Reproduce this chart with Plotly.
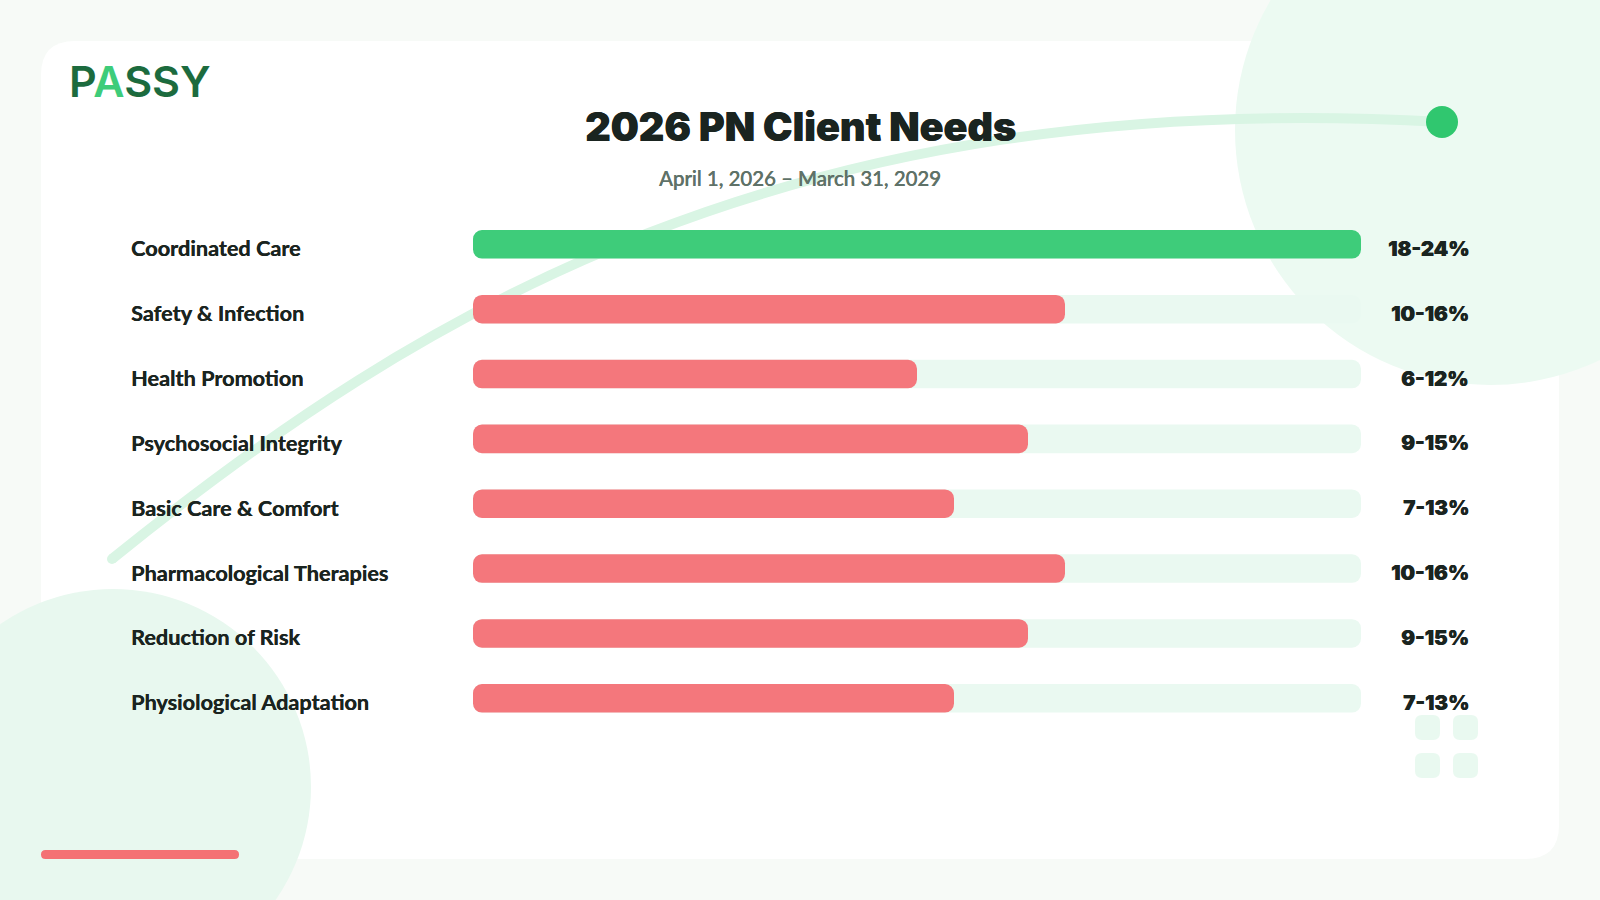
import plotly.graph_objects as go

W, H = 1600, 900

# chart data
categories = ['Coordinated Care', 'Safety & Infection', 'Health Promotion', 'Psychosocial Integrity',
              'Basic Care & Comfort', 'Pharmacological Therapies', 'Reduction of Risk', 'Physiological Adaptation']
upper_pct = [24, 16, 12, 15, 13, 16, 15, 13]
track_pct = [24, 24, 24, 24, 24, 24, 24, 24]
range_labels = ['18-24%', '10-16%', '6-12%', '9-15%', '7-13%', '10-16%', '9-15%', '7-13%']

GREEN = '#3ECC7A'
RED = '#F4777C'
TRACK = '#EAF9F1'
INK = '#1A2420'
bar_colors = [GREEN] + [RED] * 7
zero_base = [0] * len(categories)  # with an explicit base plotly rounds both ends of the bar


def px(x):
    return x / W


def py(y):
    return 1 - y / H


def rrect(x0, y0, x1, y1, r, color):
    # rounded rectangle given in page pixels
    path = (f'M {px(x0 + r)},{py(y0)} L {px(x1 - r)},{py(y0)} Q {px(x1)},{py(y0)} {px(x1)},{py(y0 + r)} '
            f'L {px(x1)},{py(y1 - r)} Q {px(x1)},{py(y1)} {px(x1 - r)},{py(y1)} '
            f'L {px(x0 + r)},{py(y1)} Q {px(x0)},{py(y1)} {px(x0)},{py(y1 - r)} '
            f'L {px(x0)},{py(y0 + r)} Q {px(x0)},{py(y0)} {px(x0 + r)},{py(y0)} Z')
    return dict(type='path', xref='paper', yref='paper', path=path, fillcolor=color,
                line=dict(width=0), layer='below')


def circle(cx, cy, r, color):
    return dict(type='circle', xref='paper', yref='paper', x0=px(cx - r), x1=px(cx + r),
                y0=py(cy + r), y1=py(cy - r), fillcolor=color, line=dict(width=0), layer='below')


curve = f'M {px(112)},{py(559)} C {px(420)},{py(310)} {px(790)},{py(85)} {px(1442)},{py(122)}'

shapes = [
    rrect(41, 41, 1559, 859, 34, '#FFFFFF'),
    circle(1490, 130, 255, '#ECFAF2'),
    circle(113, 787, 198, '#E8F8EF'),
    dict(type='path', xref='paper', yref='paper', path=curve, line=dict(color='#D9F5E4', width=10), layer='below'),
    circle(112, 559, 5, '#D9F5E4'),
    circle(1442, 122, 16, '#30C76F'),
    rrect(41, 850, 239, 859, 4.5, '#F47174'),
    rrect(1415, 715, 1440, 740, 7, '#E9F9F0'),
    rrect(1453, 715, 1478, 740, 7, '#E9F9F0'),
    rrect(1415, 753, 1440, 778, 7, '#E9F9F0'),
    rrect(1453, 753, 1478, 778, 7, '#E9F9F0'),
]

fig = go.Figure()
fig.add_trace(go.Bar(y=categories, x=track_pct, base=zero_base, orientation='h', width=0.44,
                     marker=dict(color=TRACK, cornerradius=9, line=dict(width=0)), hoverinfo='skip'))
fig.add_trace(go.Bar(y=categories, x=upper_pct, base=zero_base, orientation='h', width=0.44,
                     marker=dict(color=bar_colors, cornerradius=9, line=dict(width=0)),
                     customdata=range_labels, hovertemplate='%{y}: %{customdata}<extra></extra>'))

annotations = [
    dict(text='2026 PN Client Needs', xref='paper', yref='paper', x=px(800), y=py(127), xanchor='center',
         yanchor='middle', showarrow=False,
         font=dict(family='Inter', size=39.5, color=INK, weight=900, shadow='0.4px 0 0 #1A2420')),
    dict(text='April 1, 2026 – March 31, 2029', xref='paper', yref='paper', x=px(800), y=py(178), xanchor='center',
         yanchor='middle', showarrow=False,
         font=dict(family='Lato', size=20.4, color='#5F7268', weight=500, shadow='0.3px 0 0 #5F7268')),
    dict(text='P<span style="color:#3ECC7A">A</span>SSY', xref='paper', yref='paper', x=px(67), y=py(81),
         xanchor='left', yanchor='middle', showarrow=False,
         font=dict(family='Inter', size=43, color='#1C6B3E', weight=600)),
]
for cat, lab in zip(categories, range_labels):
    annotations.append(dict(text=cat, xref='paper', yref='y', x=px(129), y=cat, xanchor='left', yanchor='middle',
                            yshift=-4, showarrow=False,
                            font=dict(family='Lato', size=21.7, color=INK, weight=700, shadow='0.3px 0 0 #1A2420')))
    annotations.append(dict(text=lab, xref='paper', yref='y', x=px(1471), y=cat, xanchor='right', yanchor='middle',
                            yshift=-4, showarrow=False,
                            font=dict(family='Inter', size=20.5, color=INK, weight=900, shadow='0.4px 0 0 #1A2420')))

fig.update_layout(
    width=W, height=H,
    margin=dict(l=0, r=0, t=0, b=0),
    paper_bgcolor='#F7FAF7',
    plot_bgcolor='rgba(0,0,0,0)',
    barmode='overlay',
    showlegend=False,
    shapes=shapes,
    annotations=annotations,
    xaxis=dict(domain=[px(473), px(1361)], range=[0, 24], visible=False),
    yaxis=dict(domain=[py(730.7), py(211.9)], type='category', categoryorder='array', categoryarray=categories,
               range=[7.5, -0.5], visible=False),
)

fig.write_html('out.html', config={'displayModeBar': False}, post_script="document.body.style.margin='0';")
